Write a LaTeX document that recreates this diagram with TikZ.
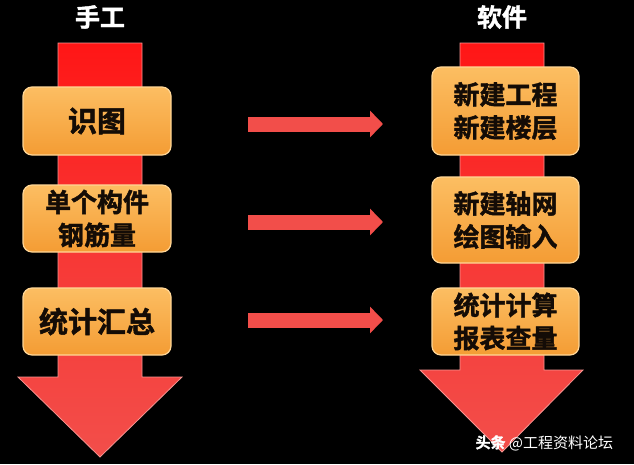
\documentclass[tikz,border=0pt]{standalone}
\usepackage{fontspec}
\newfontfamily\cjk{Noto Sans CJK SC}[BoldFont={Noto Sans CJK SC Bold}, BoldFeatures={FakeBold=1.6}]
\usetikzlibrary{arrows.meta}
\definecolor{bigred}{RGB}{255,22,22}
\definecolor{salmon}{RGB}{242,78,74}
\definecolor{boxtop}{RGB}{252,190,98}
\definecolor{boxbot}{RGB}{244,156,52}
\definecolor{boxedge}{RGB}{255,214,150}
\definecolor{inktext}{RGB}{20,12,6}
\tikzset{
  bigarrow/.style={top color=bigred, bottom color=salmon, middle color=salmon!60!bigred, draw=salmon!60!white, line width=0.8pt},
  stepbox/.style={rounded corners=9pt, top color=boxtop, bottom color=boxbot, draw=boxedge, line width=1.2pt,
    inner sep=0pt, align=center, text=inktext, font=\cjk\bfseries\fontsize{26}{33}\selectfont},
  bigbox/.style={stepbox, font=\cjk\bfseries\fontsize{29}{35}\selectfont},
  title/.style={text=white, font=\cjk\bfseries\fontsize{25}{30}\selectfont},
  flow/.style={draw=salmon, line width=15pt, -{Triangle[length=13pt,width=26pt]}},
}
\begin{document}
\begin{tikzpicture}[x=1pt,y=-1pt]
\fill[black] (0,0) rectangle (634,464);
\useasboundingbox (0,0) rectangle (634,464);
% big vertical arrows
\path[bigarrow] (58,43) -- (142,43) -- (142,377) -- (182,377) -- (100,457) -- (18,377) -- (58,377) -- cycle;
\path[bigarrow] (460,43) -- (544,43) -- (544,370) -- (583,370) -- (502,452) -- (420,370) -- (460,370) -- cycle;
% titles
\node[title] (tl) at (100,17) {手工};
\node[title] (tr) at (502,17) {软件};
% left boxes
\node[bigbox, minimum width=148pt, minimum height=68pt] (l1) at (97,121) {识图};
\node[stepbox, minimum width=148pt, minimum height=67pt] (l2) at (97,218.5) {单个构件\\钢筋量};
\node[bigbox, minimum width=148pt, minimum height=67pt] (l3) at (97,321.5) {统计汇总};
% right boxes
\node[stepbox, minimum width=147pt, minimum height=88pt] (r1) at (505.5,111) {新建工程\\新建楼层};
\node[stepbox, minimum width=147pt, minimum height=86pt] (r2) at (505.5,220) {新建轴网\\绘图输入};
\node[stepbox, minimum width=147pt, minimum height=67pt] (r3) at (505.5,321.5) {统计计算\\报表查量};
% horizontal arrows
\coordinate (a1s) at (248,124); \coordinate (a1e) at (383,124);
\coordinate (a2s) at (248,222); \coordinate (a2e) at (383,222);
\coordinate (a3s) at (248,320); \coordinate (a3e) at (383,320);
\draw[flow] (a1s) -- (a1e);
\draw[flow] (a2s) -- (a2e);
\draw[flow] (a3s) -- (a3e);
% watermark
\node[text=white, anchor=west, font=\cjk\fontsize{15}{18}\selectfont] (wm) at (472,443) {{\bfseries 头条} @工程资料论坛};
\end{tikzpicture}
\end{document}
